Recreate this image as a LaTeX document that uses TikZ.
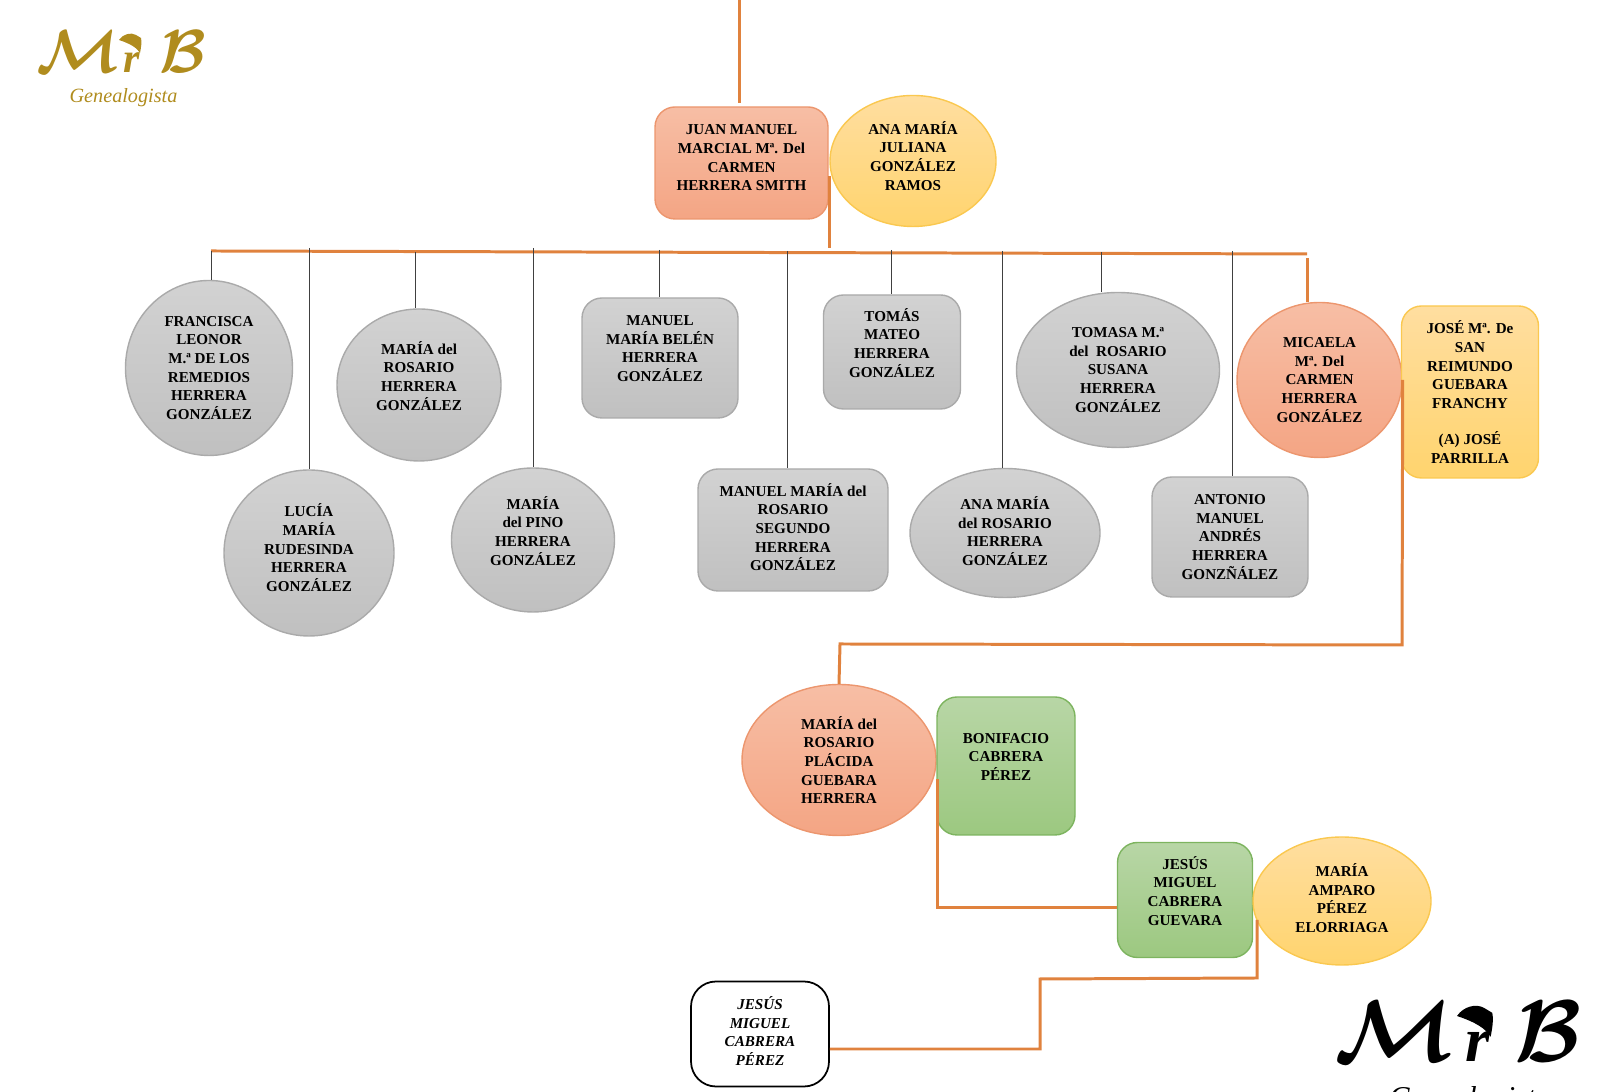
\documentclass[tikz,border=0pt]{standalone}
\usepackage{amsmath}
\usepackage{fontspec}
\setmainfont{Liberation Serif}
\usetikzlibrary{shapes.geometric}
\definecolor{lineorange}{RGB}{224,130,62}
\definecolor{salmontop}{RGB}{247,190,165}
\definecolor{salmonbot}{RGB}{244,165,132}
\definecolor{salmonedge}{RGB}{236,150,110}
\definecolor{graytop}{RGB}{210,210,210}
\definecolor{graybot}{RGB}{192,192,192}
\definecolor{grayedge}{RGB}{170,170,170}
\definecolor{goldtop}{RGB}{255,222,160}
\definecolor{goldbot}{RGB}{255,212,110}
\definecolor{goldedge}{RGB}{250,200,80}
\definecolor{greentop}{RGB}{184,214,166}
\definecolor{greenbot}{RGB}{156,200,128}
\definecolor{greenedge}{RGB}{125,180,95}
\definecolor{logogold}{RGB}{176,140,30}
\tikzset{
  person/.style={align=center, inner sep=0pt, text=black,
                 font=\fontsize{4.3}{5.3}\selectfont\bfseries},
  prect/.style={person, rectangle, rounded corners=0.2cm},
  poval/.style={person, ellipse},
  psalmon/.style={draw=salmonedge, top color=salmontop, bottom color=salmonbot, line width=0.4pt},
  pgray/.style={draw=grayedge, top color=graytop, bottom color=graybot, line width=0.4pt},
  pgold/.style={draw=goldedge, top color=goldtop, bottom color=goldbot, line width=0.4pt},
  pgreen/.style={draw=greenedge, top color=greentop, bottom color=greenbot, line width=0.4pt},
  pwhite/.style={draw=black, fill=white, line width=0.5pt, rounded corners=0.25cm,
                 font=\fontsize{4.3}{5.3}\selectfont\bfseries\itshape},
  famline/.style={lineorange, line width=0.85pt},
  kidline/.style={black!75, line width=0.25pt},
  logomark/.style={inner sep=0pt, anchor=west},
  logohat/.pic={
    \fill (0,0) .. controls (0.04,0.06) and (0.12,0.08) .. (0.17,0.05)
          -- (0.22,0.02) .. controls (0.23,-0.02) and (0.22,-0.08) .. (0.21,-0.13)
          .. controls (0.18,-0.08) and (0.12,-0.04) .. (0,0) -- cycle;
  },
}
\begin{document}
\begin{tikzpicture}
  \clip (0,0) rectangle (16,10.92);
  % logos
  \node[logomark, logogold, font=\fontsize{19}{19}\selectfont] (logoA) at (0.36,10.40) {$\boldsymbol{\mathcal{M}}$\hspace{1pt}{\fontsize{12}{12}\selectfont\itshape\bfseries r}\hspace{5.5pt}$\boldsymbol{\mathcal{B}}$};
  \pic[logogold] at (1.19,10.52) {logohat};
  \node[logomark, logogold, anchor=center, font=\fontsize{5.75}{7}\selectfont\itshape] (logoAsub) at (1.235,9.94) {Genealogista};
  \node[logomark, black, font=\fontsize{29}{29}\selectfont] (logoB) at (13.34,0.60) {$\boldsymbol{\mathcal{M}}$\hspace{3pt}{\fontsize{18}{18}\selectfont\itshape\bfseries r}\hspace{7pt}$\boldsymbol{\mathcal{B}}$};
  \pic[black, scale=1.6] at (14.57,0.76) {logohat};
  \node[logomark, black, anchor=center, font=\fontsize{8.6}{10}\selectfont\itshape] (logoBsub) at (14.70,-0.08) {Genealogista};
  % couples
  \node[prect, psalmon, minimum width=1.73cm, minimum height=1.12cm] (juan) at (7.415,9.29) {JUAN MANUEL\\MARCIAL Mª. Del\\CARMEN\\HERRERA SMITH\\[-2.3pt]~};
  \node[poval, pgold, minimum width=1.66cm, minimum height=1.31cm] (ana) at (9.13,9.31) {ANA MARÍA\\JULIANA\\GONZÁLEZ\\RAMOS\\[-2.3pt]~};
  % children
  \node[poval, pgray, minimum width=1.67cm, minimum height=1.75cm] (francisca) at (2.09,7.24) {FRANCISCA\\LEONOR\\M.ª DE LOS\\REMEDIOS\\HERRERA\\GONZÁLEZ};
  \node[poval, pgray, minimum width=1.70cm, minimum height=1.66cm] (lucia) at (3.09,5.39) {LUCÍA\\MARÍA\\RUDESINDA\\HERRERA\\GONZÁLEZ\\[-2.3pt]~};
  \node[poval, pgray, minimum width=1.64cm, minimum height=1.52cm] (rosario) at (4.19,7.07) {MARÍA del\\ROSARIO\\HERRERA\\GONZÁLEZ\\~};
  \node[poval, pgray, minimum width=1.63cm, minimum height=1.44cm] (pino) at (5.33,5.52) {MARÍA\\del PINO\\HERRERA\\GONZÁLEZ\\~};
  \node[prect, pgray, minimum width=1.56cm, minimum height=1.20cm] (belen) at (6.60,7.34) {MANUEL\\MARÍA BELÉN\\HERRERA\\GONZÁLEZ\\~};
  \node[prect, pgray, minimum width=1.90cm, minimum height=1.22cm] (segundo) at (7.93,5.62) {MANUEL MARÍA del\\ROSARIO\\SEGUNDO\\HERRERA\\GONZÁLEZ\\[-3.6pt]~};
  \node[prect, pgray, minimum width=1.37cm, minimum height=1.14cm] (tomas) at (8.92,7.40) {TOMÁS\\MATEO\\HERRERA\\GONZÁLEZ\\~};
  \node[poval, pgray, minimum width=1.90cm, minimum height=1.29cm] (anamaria) at (10.05,5.59) {ANA MARÍA\\del ROSARIO\\HERRERA\\GONZÁLEZ\\[-4.2pt]~};
  \node[poval, pgray, minimum width=2.03cm, minimum height=1.55cm] (tomasa) at (11.18,7.22) {TOMASA M.ª\\del\ \ ROSARIO\\SUSANA\\HERRERA\\GONZÁLEZ};
  \node[prect, pgray, minimum width=1.56cm, minimum height=1.20cm] (antonio) at (12.30,5.55) {ANTONIO\\MANUEL\\ANDRÉS\\HERRERA\\GONZÑÁLEZ};
  \node[poval, psalmon, minimum width=1.65cm, minimum height=1.55cm] (micaela) at (13.195,7.12) {MICAELA\\Mª. Del\\CARMEN\\HERRERA\\GONZÁLEZ};
  \node[prect, pgold, minimum width=1.37cm, minimum height=1.72cm] (jose) at (14.70,7.00) {JOSÉ Mª. De\\SAN\\REIMUNDO\\GUEBARA\\FRANCHY\\[5pt](A) JOSÉ\\PARRILLA};
  % next generations
  \node[poval, psalmon, minimum width=1.94cm, minimum height=1.51cm] (placida) at (8.39,3.32) {MARÍA del\\ROSARIO\\PLÁCIDA\\GUEBARA\\HERRERA};
  \node[prect, pgreen, minimum width=1.38cm, minimum height=1.38cm] (bonifacio) at (10.06,3.26) {BONIFACIO\\CABRERA\\PÉREZ\\~};
  \node[prect, pgreen, minimum width=1.35cm, minimum height=1.15cm] (jesus) at (11.85,1.92) {JESÚS\\MIGUEL\\CABRERA\\GUEVARA\\~};
  \node[poval, pgold, minimum width=1.78cm, minimum height=1.28cm] (amparo) at (13.42,1.91) {MARÍA\\AMPARO\\PÉREZ\\ELORRIAGA\\[-3.6pt]~};
  \node[prect, pwhite, minimum width=1.38cm, minimum height=1.05cm] (hijo) at (7.60,0.58) {JESÚS\\MIGUEL\\CABRERA\\PÉREZ\\[-3.6pt]~};
  % bus
  \coordinate (busL) at (2.11,8.41);
  \coordinate (busR) at (13.07,8.38);
  \coordinate (topin) at (7.39,10.92);
  \coordinate (juanout) at (8.29,9.16);
  \coordinate (juanbus) at (8.29,8.44);
  \coordinate (micin) at (13.07,8.34);
  \draw[famline, shorten >=0.03cm] (topin) -- (topin |- juan.north);
  \draw[famline] (juanout) -- (juanbus);
  \draw[famline] (busL) -- (busR);
  \draw[famline] (micin) -- (micin |- micaela.north);
  % children lines
  \foreach \kid/\kx/\ky in {francisca/2.11/8.41, lucia/3.09/8.44, rosario/4.15/8.40,
                            pino/5.33/8.44, belen/6.59/8.42, segundo/7.87/8.41,
                            tomas/8.91/8.42, anamaria/10.02/8.41, tomasa/11.01/8.40,
                            antonio/12.32/8.41}{
    \coordinate (t\kid) at (\kx,\ky);
    \draw[kidline] (t\kid) -- (t\kid |- \kid.north);
  }
  % descent
  \coordinate (mbendA) at (14.02,4.47);
  \coordinate (mbendB) at (8.40,4.48);
  \draw[famline] (micaela.east) -- (mbendA) -- (mbendB) -- (placida.north);
  \coordinate (pout) at (9.37,3.13);
  \coordinate (pbend) at (9.37,1.84);
  \draw[famline] (pout) -- (pbend) -- (pbend -| jesus.west);
  \coordinate (aout) at (12.57,1.72);
  \coordinate (abendA) at (12.57,1.14);
  \coordinate (abendB) at (10.40,1.13);
  \coordinate (abendC) at (10.40,0.43);
  \draw[famline] (aout) -- (abendA) -- (abendB) -- (abendC) -- (abendC -| hijo.east);
\end{tikzpicture}
\end{document}
